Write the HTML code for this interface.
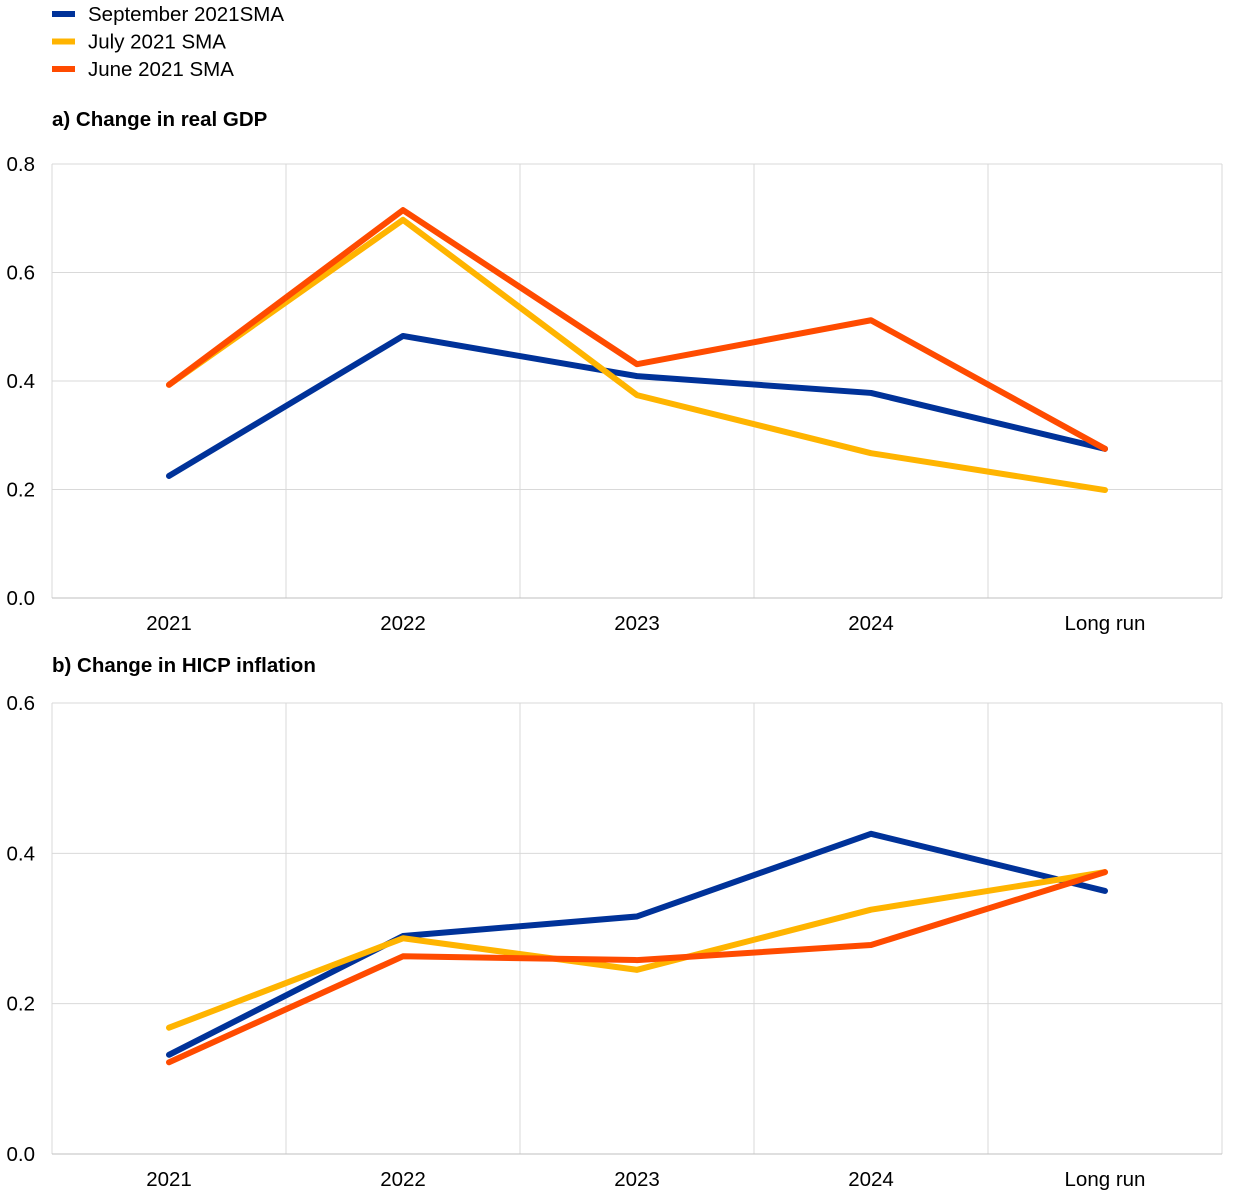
<!DOCTYPE html>
<html><head><meta charset="utf-8"><style>
html,body{margin:0;padding:0;background:#fff;}
svg{display:block;font-family:"Liberation Sans",Arial,sans-serif;}
</style></head><body>
<svg id="chart" width="1240" height="1200"></svg>
<script>
const categories = ["2021","2022","2023","2024","Long run"];
const seriesNames = ["September 2021SMA","July 2021 SMA","June 2021 SMA"];
const colors = ["#003299","#ffb400","#ff4b00"];
const gdpSept = [0.225,0.483,0.409,0.378,0.275];
const gdpJuly = [0.393,0.697,0.374,0.267,0.199];
const gdpJune = [0.393,0.715,0.431,0.512,0.275];
const hicpSept = [0.132,0.290,0.316,0.426,0.350];
const hicpJuly = [0.168,0.287,0.245,0.325,0.375];
const hicpJune = [0.122,0.263,0.258,0.278,0.375];
const gdpTicks = [0,0.2,0.4,0.6,0.8];
const hicpTicks = [0,0.2,0.4,0.6];

const NS="http://www.w3.org/2000/svg";
const svg=document.getElementById('chart');
const FS=20.5;
function mk(tag,attrs,parent){const e=document.createElementNS(NS,tag);for(const k in attrs)e.setAttribute(k,attrs[k]);(parent||svg).appendChild(e);return e;}

seriesNames.forEach((n,i)=>{
  const g=mk('g',{});
  
  
  const y=14+i*27.5;
  mk('rect',{x:52,y:y-3,width:23,height:6,fill:colors[i]},g);
  const t=mk('text',{x:88,y:y+7,'font-size':FS,fill:'#000'},g);
  t.textContent=n;
});

function panel(title,titleY,top,bottom,maxV,ticks,series,name){
  const g=mk('g',{});
  
  
  const left=52,right=1222,band=(right-left)/categories.length;
  const xS=i=>left+band*(i+0.5);
  const yS=v=>bottom-(v/maxV)*(bottom-top);
  const tt=mk('text',{x:52,y:titleY,'font-size':FS,'font-weight':'bold'},g);
  
  
  tt.textContent=title;
  ticks.forEach(v=>{
    mk('line',{x1:left,x2:right,y1:yS(v),y2:yS(v),stroke:'#d9d9d9','stroke-width':1},g);
    const t=mk('text',{x:35,y:yS(v)+7,'font-size':FS,'text-anchor':'end'},g);
    
    
    t.textContent=v.toFixed(1);
  });
  for(let i=0;i<=categories.length;i++){
    mk('line',{x1:left+band*i,x2:left+band*i,y1:top,y2:bottom,stroke:'#d9d9d9','stroke-width':1},g);
  }
  mk('line',{x1:left,x2:right,y1:bottom,y2:bottom,stroke:'#bfbfbf','stroke-width':1},g);
  categories.forEach((c,i)=>{
    const t=mk('text',{x:xS(i),y:bottom+32,'font-size':FS,'text-anchor':'middle'},g);
    
    
    t.textContent=c;
  });
  series.forEach((s,k)=>{
    const p=mk('polyline',{points:s.map((v,i)=>xS(i)+','+yS(v)).join(' '),fill:'none',stroke:colors[k],'stroke-width':6,'stroke-linejoin':'round','stroke-linecap':'round'},g);
    
    
  });
}
panel("a) Change in real GDP",126,164,598,0.8,gdpTicks,[gdpSept,gdpJuly,gdpJune],'gdp-panel');
panel("b) Change in HICP inflation",672,703,1154,0.6,hicpTicks,[hicpSept,hicpJuly,hicpJune],'hicp-panel');
</script>
</body></html>
